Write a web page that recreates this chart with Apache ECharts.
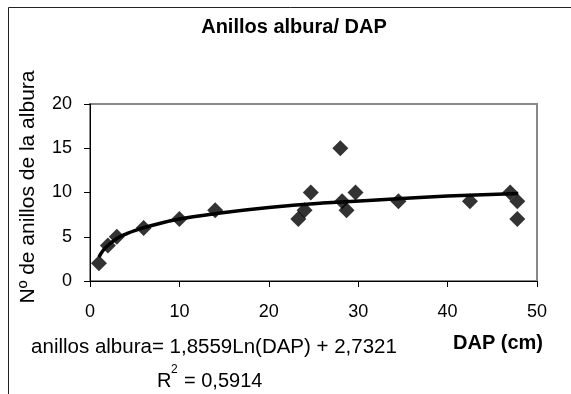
<!DOCTYPE html>
<html>
<head>
<meta charset="utf-8">
<script src="https://cdn.jsdelivr.net/npm/echarts@6/dist/echarts.min.js"></script>
<style>
  html, body { margin: 0; padding: 0; background: #fff; }
  #chart { width: 571px; height: 394px; }
</style>
</head>
<body>
<div id="chart"></div>
<script>
// datos (DAP en cm, nº de anillos de albura)
const dap = [1, 2, 3, 6, 10, 14, 23.3, 24, 24.7, 28, 28.2, 28.7, 29.7, 34.5, 42.5, 47, 47.8, 47.8]
const anillos = [2, 4, 5, 6, 7, 8, 7, 8, 10, 15, 9, 8, 10, 9, 9, 10, 9, 7]

// línea de tendencia logarítmica
const trendX = [1, 1.5, 2, 3, 4, 5, 7, 10, 14, 20, 26, 33, 40, 47.9]
const trendY = [2.7, 3.5, 4.0, 4.8, 5.3, 5.7, 6.3, 7.0, 7.6, 8.3, 8.8, 9.2, 9.6, 9.9]

const xTicks = [0, 10, 20, 30, 40, 50]
const yTicks = [0, 5, 10, 15, 20]

const titulo = 'Anillos albura/ DAP'
const nombreY = 'Nº de anillos de la albura'
const nombreX = 'DAP (cm)'
const ecuacion = 'anillos albura= 1,8559Ln(DAP) + 2,7321'
const r2 = '0,5914'

const font = 'Liberation Sans, Arial, sans-serif'

const chart = echarts.init(document.getElementById('chart'))

chart.setOption({
  animation: false,
  backgroundColor: '#fff',
  grid: {
    left: 90,
    right: 34,
    top: 104,
    bottom: 113,
    show: true,
    borderColor: '#888',
    borderWidth: 2,
    backgroundColor: '#fff'
  },
  xAxis: {
    type: 'value',
    min: xTicks[0],
    max: xTicks[xTicks.length - 1],
    interval: 10,
    axisLine: { show: true, onZero: false, lineStyle: { color: '#000', width: 1 } },
    axisTick: { show: true, length: 6, lineStyle: { color: '#000' } },
    axisLabel: { margin: 22, color: '#000', fontSize: 18, fontFamily: font },
    splitLine: { show: false }
  },
  yAxis: {
    type: 'value',
    min: yTicks[0],
    max: yTicks[yTicks.length - 1],
    interval: 5,
    axisLine: { show: true, onZero: false, lineStyle: { color: '#000', width: 1 } },
    axisTick: { show: true, length: 6, lineStyle: { color: '#000' } },
    axisLabel: { margin: 18, color: '#000', fontSize: 18, fontFamily: font },
    splitLine: { show: false }
  },
  series: [
    {
      type: 'line',
      data: trendX.map((x, i) => [x, trendY[i]]),
      smooth: true,
      showSymbol: false,
      lineStyle: { color: '#000', width: 3.5 },
      z: 2
    },
    {
      type: 'scatter',
      data: dap.map((x, i) => [x, anillos[i]]),
      symbol: 'diamond',
      symbolSize: 16,
      itemStyle: { color: '#000' },
      z: 3
    }
  ],
  graphic: [
    {
      type: 'rect',
      shape: { x: 8.5, y: 7.5, width: 620, height: 420 },
      style: { fill: null, stroke: '#222', lineWidth: 1 },
      silent: true,
      z: -1
    },
    {
      type: 'text',
      x: 294, y: 27,
      style: { text: titulo, font: 'bold 20px ' + font, fill: '#000', textAlign: 'center', textVerticalAlign: 'middle' }
    },
    {
      type: 'text',
      x: 28, y: 187,
      rotation: Math.PI / 2,
      style: { text: nombreY, font: '21px ' + font, fill: '#000', textAlign: 'center', textVerticalAlign: 'middle' }
    },
    {
      type: 'text',
      x: 498, y: 343,
      style: { text: nombreX, font: 'bold 20px ' + font, fill: '#000', textAlign: 'center', textVerticalAlign: 'middle' }
    },
    {
      type: 'text',
      x: 214, y: 347,
      style: { text: ecuacion, font: '20.5px ' + font, fill: '#000', textAlign: 'center', textVerticalAlign: 'middle' }
    },
    {
      type: 'text',
      x: 157, y: 381,
      style: { text: 'R', font: '20px ' + font, fill: '#000', textAlign: 'left', textVerticalAlign: 'middle' }
    },
    {
      type: 'text',
      x: 171, y: 370,
      style: { text: '2', font: '12px ' + font, fill: '#000', textAlign: 'left', textVerticalAlign: 'middle' }
    },
    {
      type: 'text',
      x: 184, y: 381,
      style: { text: '= ' + r2, font: '20px ' + font, fill: '#000', textAlign: 'left', textVerticalAlign: 'middle' }
    }
  ]
})

window.addEventListener('resize', () => chart.resize())
</script>
</body>
</html>
